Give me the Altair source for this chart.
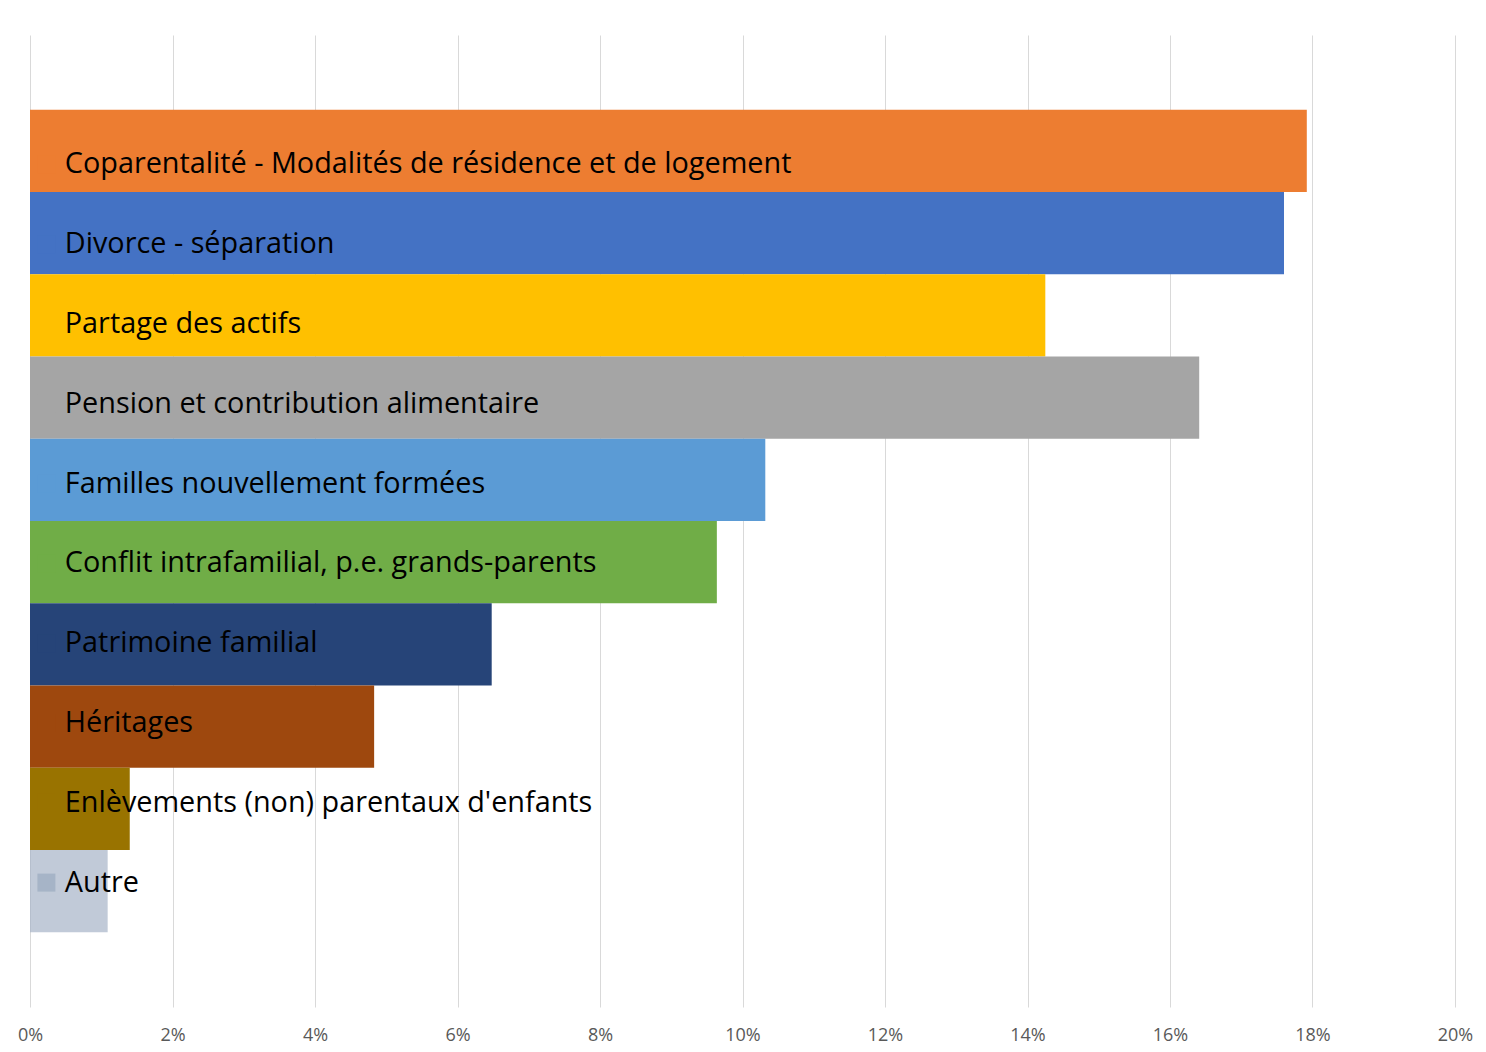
import altair as alt
import pandas as pd

categories = [
    "Coparentalité - Modalités de résidence et de logement",
    "Divorce - séparation",
    "Partage des actifs",
    "Pension et contribution alimentaire",
    "Familles nouvellement formées",
    "Conflit intrafamilial, p.e. grands-parents",
    "Patrimoine familial",
    "Héritages",
    "Enlèvements (non) parentaux d'enfants",
    "Autre",
]
values = [0.1792, 0.1760, 0.1425, 0.1641, 0.1032, 0.0964, 0.0648, 0.0483, 0.0140, 0.0109]
colors = ["#ED7D31", "#4472C4", "#FFC000", "#A5A5A5", "#5B9BD5",
          "#70AD47", "#264478", "#9E480E", "#997300", "#A6B4C7"]
tick_values = [0, 0.02, 0.04, 0.06, 0.08, 0.10, 0.12, 0.14, 0.16, 0.18, 0.20]

df = pd.DataFrame({"cat": categories, "val": values})

chart = alt.Chart(df).mark_bar().encode(
    x=alt.X("val:Q",
            scale=alt.Scale(domain=[0, 0.2], nice=False),
            axis=alt.Axis(values=tick_values, format=".0%", title=None,
                          domain=False, ticks=False, grid=True,
                          gridColor="#D9D9D9", gridWidth=1, labelFlush=False,
                          labelFont="Open Sans", labelFontSize=18,
                          labelColor="#595959", labelPadding=19)),
    y=alt.Y("cat:N", sort=categories,
            scale=alt.Scale(paddingInner=0, paddingOuter=0.91),
            axis=None),
    color=alt.Color("cat:N",
                    scale=alt.Scale(domain=categories, range=colors),
                    legend=alt.Legend(orient="none", legendX=2, legendY=115,
                                      title=None, symbolType="square",
                                      symbolSize=324, symbolStrokeWidth=0,
                                      symbolOpacity=1, padding=0,
                                      labelFont="Open Sans", labelFontSize=28.8,
                                      labelColor="#000000", labelLimit=1200,
                                      labelOffset=4, rowPadding=49.8)),
    opacity=alt.condition(alt.datum.cat == "Autre", alt.value(0.7), alt.value(1)),
).properties(
    width=1425,
    height=972,
    autosize=alt.AutoSizeParams(type="none"),
    padding={"left": 22, "top": 27, "right": 20, "bottom": 40},
).configure_view(strokeWidth=0)

chart.save("out.html", embed_options={"renderer": "svg", "actions": False})
